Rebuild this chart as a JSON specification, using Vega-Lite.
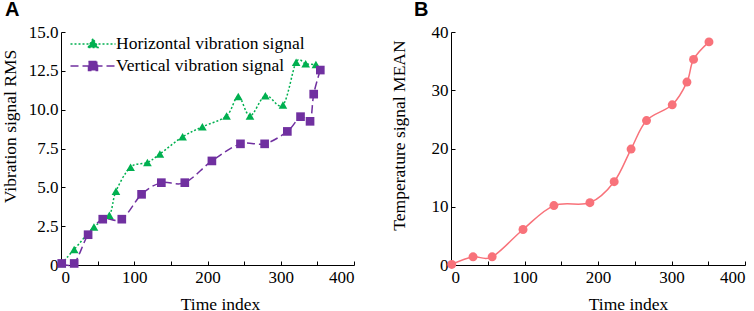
{
  "$schema": "https://vega.github.io/schema/vega-lite/v6.json",
  "padding": {"left": 0, "top": 0, "right": 0, "bottom": 0},
  "bounds": "flush",
  "spacing": 97,
  "config": {
    "view": {"stroke": null},
    "font": "Liberation Serif",
    "axis": {
      "grid": false,
      "domainColor": "#000000",
      "domainWidth": 1,
      "tickColor": "#000000",
      "tickWidth": 1,
      "tickSize": -4,
      "labelFont": "Liberation Serif",
      "labelFontSize": 17,
      "labelColor": "#000000",
      "titleFont": "Liberation Serif",
      "titleFontSize": 17.5,
      "titleFontWeight": "normal",
      "titleColor": "#000000"
    },
    "title": {
      "font": "Liberation Sans",
      "fontSize": 20,
      "fontWeight": "bold",
      "color": "#000000",
      "anchor": "start",
      "frame": "group",
      "baseline": "alphabetic"
    }
  },
  "datasets": {
    "vib": [
      {"t": 1, "rms": 0.1, "series": "Horizontal vibration signal"},
      {"t": 18, "rms": 1.0, "series": "Horizontal vibration signal"},
      {"t": 45, "rms": 2.45, "series": "Horizontal vibration signal"},
      {"t": 66, "rms": 3.2, "series": "Horizontal vibration signal"},
      {"t": 75, "rms": 4.75, "series": "Horizontal vibration signal"},
      {"t": 95, "rms": 6.3, "series": "Horizontal vibration signal"},
      {"t": 118, "rms": 6.6, "series": "Horizontal vibration signal"},
      {"t": 135, "rms": 7.15, "series": "Horizontal vibration signal"},
      {"t": 166, "rms": 8.25, "series": "Horizontal vibration signal"},
      {"t": 193, "rms": 8.9, "series": "Horizontal vibration signal"},
      {"t": 226, "rms": 9.6, "series": "Horizontal vibration signal"},
      {"t": 242, "rms": 10.85, "series": "Horizontal vibration signal"},
      {"t": 258, "rms": 9.6, "series": "Horizontal vibration signal"},
      {"t": 279, "rms": 10.9, "series": "Horizontal vibration signal"},
      {"t": 303, "rms": 10.3, "series": "Horizontal vibration signal"},
      {"t": 321, "rms": 13.05, "series": "Horizontal vibration signal"},
      {"t": 334, "rms": 12.95, "series": "Horizontal vibration signal"},
      {"t": 348, "rms": 12.9, "series": "Horizontal vibration signal"},
      {"t": 1, "rms": 0.1, "series": "Vertical vibration signal"},
      {"t": 18, "rms": 0.1, "series": "Vertical vibration signal"},
      {"t": 37, "rms": 1.95, "series": "Vertical vibration signal"},
      {"t": 57, "rms": 2.95, "series": "Vertical vibration signal"},
      {"t": 83, "rms": 2.95, "series": "Vertical vibration signal"},
      {"t": 110, "rms": 4.55, "series": "Vertical vibration signal"},
      {"t": 137, "rms": 5.3, "series": "Vertical vibration signal"},
      {"t": 169, "rms": 5.3, "series": "Vertical vibration signal"},
      {"t": 206, "rms": 6.7, "series": "Vertical vibration signal"},
      {"t": 245, "rms": 7.8, "series": "Vertical vibration signal"},
      {"t": 278, "rms": 7.8, "series": "Vertical vibration signal"},
      {"t": 309, "rms": 8.6, "series": "Vertical vibration signal"},
      {"t": 327, "rms": 9.55, "series": "Vertical vibration signal"},
      {"t": 340, "rms": 9.25, "series": "Vertical vibration signal"},
      {"t": 345, "rms": 11.0, "series": "Vertical vibration signal"},
      {"t": 354, "rms": 12.55, "series": "Vertical vibration signal"}
    ],
    "temp": [
      {"t": 1, "mean": 0.1},
      {"t": 30, "mean": 1.4},
      {"t": 56, "mean": 1.4},
      {"t": 98, "mean": 6.1},
      {"t": 140, "mean": 10.2},
      {"t": 189, "mean": 10.7},
      {"t": 222, "mean": 14.3},
      {"t": 245, "mean": 19.9},
      {"t": 266, "mean": 24.8},
      {"t": 301, "mean": 27.5},
      {"t": 321, "mean": 31.4},
      {"t": 330, "mean": 35.3},
      {"t": 351, "mean": 38.3}
    ]
  },
  "hconcat": [
    {
      "width": 293,
      "height": 233,
      "title": {"text": "A", "dx": -56, "offset": 3},
      "data": {"name": "vib"},
      "encoding": {
        "x": {
          "field": "t", "type": "quantitative",
          "scale": {"domain": [0, 400], "nice": false},
          "axis": {
            "title": "Time index",
            "values": [0, 50, 100, 150, 200, 250, 300, 350, 400],
            "labelExpr": "datum.value % 100 === 0 ? datum.label : ''",
            "labelFont": "Liberation Serif",
            "labelPadding": 8,
            "titleX": 159,
            "titleY": 44,
            "titleBaseline": "alphabetic"
          }
        },
        "y": {
          "field": "rms", "type": "quantitative",
          "scale": {"domain": [0, 15], "nice": false},
          "axis": {
            "title": "Vibration signal RMS",
            "values": [0, 2.5, 5, 7.5, 10, 12.5, 15],
            "labelExpr": "datum.value === 0 ? '0' : format(datum.value, '.1f')",
            "labelFont": "Liberation Serif",
            "labelPadding": 7,
            "titleX": -51,
            "titleY": 94,
            "titleAngle": -90,
            "titleAlign": "center",
            "titleBaseline": "middle"
          }
        },
        "color": {
          "field": "series", "type": "nominal",
          "scale": {"domain": ["Horizontal vibration signal", "Vertical vibration signal"], "range": ["#00B050", "#7030A0"]},
          "legend": {
            "title": null,
            "orient": "none",
            "legendX": 21,
            "legendY": 1,
            "padding": 0,
            "symbolSize": 400,
            "symbolStrokeWidth": 1.5,
            "labelFont": "Liberation Serif",
            "labelFontSize": 17.5,
            "labelColor": "#000000",
            "labelLimit": 0,
            "labelOffset": 12,
            "rowPadding": 2,
            "encode": {
              "symbols": {
                "update": {
                  "shape": {"signal": "datum.value === 'Horizontal vibration signal' ? 'M-2.25,0L2.25,0M-0.5,0.35L0,-0.55L0.5,0.35Z' : 'M-2.25,0L2.25,0M-0.45,-0.45L0.45,-0.45L0.45,0.45L-0.45,0.45Z'"},
                  "strokeDash": {"signal": "datum.value === 'Horizontal vibration signal' ? [2, 2] : [8, 4]"},
                  "fill": {"signal": "datum.value === 'Horizontal vibration signal' ? '#00B050' : '#7030A0'"},
                  "stroke": {"signal": "datum.value === 'Horizontal vibration signal' ? '#00B050' : '#7030A0'"},
                  "strokeWidth": {"value": 1.5},
                  "opacity": {"value": 1},
                  "fillOpacity": {"value": 1},
                  "strokeOpacity": {"value": 1}
                }
              }
            }
          }
        }
      },
      "layer": [
        {
          "mark": {"type": "line", "interpolate": "cardinal", "strokeWidth": 1.5},
          "encoding": {
            "strokeDash": {
              "field": "series", "type": "nominal",
              "scale": {"domain": ["Horizontal vibration signal", "Vertical vibration signal"], "range": [[2, 2], [8, 4]]},
              "legend": null
            }
          }
        },
        {
          "mark": {"type": "point", "filled": true, "opacity": 1, "size": 75},
          "encoding": {
            "shape": {
              "condition": {"test": "datum.series === 'Horizontal vibration signal'", "value": "triangle-up"},
              "value": "square"
            }
          }
        }
      ]
    },
    {
      "width": 294,
      "height": 233,
      "title": {"text": "B", "dx": -37, "offset": 3},
      "data": {"name": "temp"},
      "encoding": {
        "x": {
          "field": "t", "type": "quantitative",
          "scale": {"domain": [0, 400], "nice": false},
          "axis": {
            "title": "Time index",
            "values": [0, 50, 100, 150, 200, 250, 300, 350, 400],
            "labelExpr": "datum.value % 100 === 0 ? datum.label : ''",
            "labelFont": "Liberation Serif",
            "labelPadding": 8,
            "titleX": 177,
            "titleY": 44,
            "titleBaseline": "alphabetic"
          }
        },
        "y": {
          "field": "mean", "type": "quantitative",
          "scale": {"domain": [0, 40], "nice": false},
          "axis": {
            "title": "Temperature signal MEAN",
            "values": [0, 10, 20, 30, 40],
            "labelFont": "Liberation Serif",
            "labelPadding": 7,
            "titleX": -52,
            "titleY": 103,
            "titleAngle": -90,
            "titleAlign": "center",
            "titleBaseline": "middle"
          }
        }
      },
      "layer": [
        {
          "mark": {"type": "line", "interpolate": "cardinal", "strokeWidth": 1.5, "color": "#F8727A"},
          "encoding": {}
        },
        {
          "mark": {"type": "circle", "opacity": 1, "size": 80, "color": "#F8727A"},
          "encoding": {}
        }
      ]
    }
  ]
}
